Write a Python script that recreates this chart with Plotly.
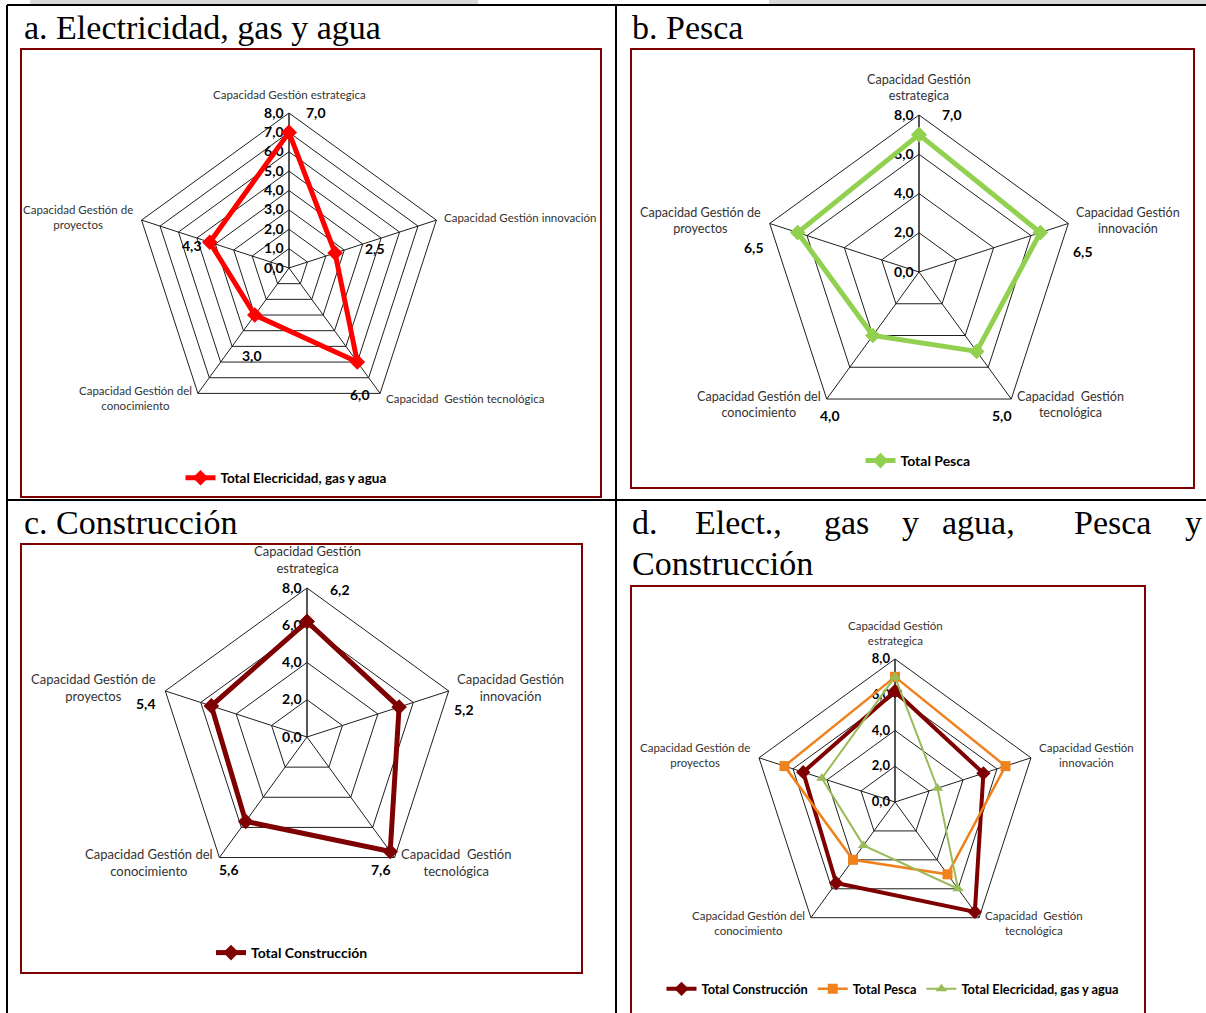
import math
import plotly.graph_objects as go

W, H = 1206, 1013

# Category axes (five management capabilities)
ejes = ["Capacidad Gestión estrategica", "Capacidad Gestión innovación",
        "Capacidad  Gestión tecnológica", "Capacidad Gestión del conocimiento",
        "Capacidad Gestión de proyectos"]

# Scores per sector
electricidad = [7.0, 2.5, 6.0, 3.0, 4.3]
pesca = [7.0, 6.5, 5.0, 4.0, 6.5]
construccion = [6.2, 5.2, 7.6, 5.6, 5.4]

nombre_elec = "Total Elecricidad, gas y agua"
nombre_pesca = "Total Pesca"
nombre_constr = "Total Construcción"

RMAX = 8.0
GRID = "#1e1e1e"
FONT = "Lato"
RED = "#ff0000"
GREEN = "#92d050"
MAROON = "#7f0000"
ORANGE = "#f0821e"
LGREEN = "#9bbb59"
BOX = "#7f0000"


def px_x(x):
    return x / W


def px_y(y):
    return 1 - y / H


def closed(v):
    return list(v) + [v[0]]


def polar_cfg(cx, cy, R, dtick, tick_size):
    return dict(
        domain=dict(x=[px_x(cx - R), px_x(cx + R)], y=[px_y(cy + R), px_y(cy - R)]),
        gridshape="linear",
        bgcolor="white",
        radialaxis=dict(
            range=[0, RMAX], tickmode="linear", tick0=0, dtick=dtick, tickformat=".1f",
            angle=90, side="counterclockwise", tickangle=90, showline=True,
            linecolor=GRID, linewidth=1, gridcolor=GRID, gridwidth=0.8, ticks="",
            tickfont=dict(family=FONT, size=tick_size, color="black", weight="bold"),
            layer="below traces",
        ),
        angularaxis=dict(
            direction="clockwise", rotation=90, showline=True, linecolor=GRID,
            linewidth=1, gridcolor=GRID, gridwidth=0.8, ticks="", showticklabels=False,
            layer="below traces",
        ),
    )


# (center x, center y, radius) of each radar in pixels
GEOM = {
    "polar": (289, 268, 155),
    "polar2": (919, 272, 157),
    "polar3": (307, 737, 149),
    "polar4": (895, 802, 143),
}

fig = go.Figure()


def radar(values, name, color, width, symbol, msize, subplot, legend):
    fig.add_trace(go.Scatterpolar(
        r=closed(values), theta=closed(ejes), name=name, mode="lines+markers",
        line=dict(color=color, width=width),
        marker=dict(symbol=symbol, size=msize, color=color),
        subplot=subplot, legend=legend, showlegend=True, hoverinfo="r+theta",
    ))


radar(electricidad, nombre_elec, RED, 5, "diamond", 12, "polar", "legend")
radar(pesca, nombre_pesca, GREEN, 5, "diamond", 12, "polar2", "legend2")
radar(construccion, nombre_constr, MAROON, 5, "diamond", 12, "polar3", "legend3")
radar(construccion, nombre_constr, MAROON, 4, "diamond", 11, "polar4", "legend4")
radar(pesca, nombre_pesca, ORANGE, 2.5, "square", 10, "polar4", "legend4")
radar(electricidad, nombre_elec, LGREEN, 2, "triangle-up", 10, "polar4", "legend4")

annotations = []


def vertex(key, k, v=RMAX):
    cx, cy, R = GEOM[key]
    a = math.radians(72 * k)
    return cx + v / RMAX * R * math.sin(a), cy - v / RMAX * R * math.cos(a)


# Axis category labels placed around the outer vertices
# (dx, dy, xanchor, yanchor) per axis
CAT_PLACE = [(0, -10, "center", "bottom"), (6, -3, "left", "middle"),
             (4, 5, "left", "middle"), (-4, 5, "right", "middle"),
             (-7, -3, "right", "middle")]
for key, size, wrap_from in [("polar", 11.5, 3), ("polar2", 12.6, 0), ("polar3", 13, 0), ("polar4", 11.5, 0)]:
    for k, name in enumerate(ejes):
        text = "<br>".join(name.rsplit(" ", 1)) if k >= wrap_from else name
        vx, vy = vertex(key, k)
        dx, dy, xa, ya = CAT_PLACE[k]
        annotations.append(dict(
            x=px_x(vx + dx), y=px_y(vy + dy), xref="paper", yref="paper", text=text,
            showarrow=False, xanchor=xa, yanchor=ya, align="center",
            font=dict(family=FONT, size=size, color="#333333"),
        ))

# Value labels, offset in pixels from each plotted point
label_offsets = {
    "polar": [(27, -20), (40, -5), (3, 32), (-3, 40), (-18, 3)],
    "polar2": [(33, -20), (43, 19), (25, 64), (-43, 80), (-44, 15)],
    "polar3": [(33, -32), (65, 2), (-9, 18), (-17, 48), (-65, -2)],
}
label_values = {"polar": electricidad, "polar2": pesca, "polar3": construccion}
for key, vals in label_values.items():
    for k, v in enumerate(vals):
        x, y = vertex(key, k, v)
        dx, dy = label_offsets[key][k]
        annotations.append(dict(
            x=px_x(x + dx), y=px_y(y + dy), xref="paper", yref="paper",
            text=f"{v:.1f}".replace(".", ","), showarrow=False,
            xanchor="center", yanchor="middle",
            font=dict(family=FONT, size=14, color="black", weight="bold"),
        ))

# Cell headings
SERIF = dict(family="Liberation Serif", size=34, color="black")
for text, x, y in [("a. Electricidad, gas y agua", 22, 27), ("b. Pesca", 630, 27),
                   ("c. Construcción", 22, 522), ("Construcción", 630, 563)]:
    annotations.append(dict(x=px_x(x), y=px_y(y), xref="paper", yref="paper", text=text,
                            showarrow=False, xanchor="left", yanchor="middle", font=SERIF))
# justified first line of heading d
for word, x in [("d.", 630), ("Elect.,", 693), ("gas", 822), ("y", 900),
                ("agua,", 940), ("Pesca", 1072), ("y", 1183)]:
    annotations.append(dict(x=px_x(x), y=px_y(522), xref="paper", yref="paper", text=word,
                            showarrow=False, xanchor="left", yanchor="middle", font=SERIF))

shapes = []
# grey strip at the top of the page
for x0, x1 in [(30, 478), (769, 1206)]:
    shapes.append(dict(type="rect", xref="paper", yref="paper", x0=px_x(x0), x1=px_x(x1),
                       y0=px_y(4), y1=px_y(0), fillcolor="#d9d9d9", line=dict(width=0),
                       layer="below"))
# table rules
for x0, y0, x1, y1 in [(7, 5, 1206, 5), (7, 5, 7, 1013), (616, 5, 616, 1013), (7, 500, 1206, 500)]:
    shapes.append(dict(type="line", xref="paper", yref="paper", x0=px_x(x0), y0=px_y(y0),
                       x1=px_x(x1), y1=px_y(y1), line=dict(color="black", width=2)))
# chart frames
for x0, y0, x1, y1 in [(21, 49, 601, 497), (631, 49, 1194, 488), (21, 544, 582, 973), (631, 586, 1145, 1030)]:
    shapes.append(dict(type="rect", xref="paper", yref="paper", x0=px_x(x0), y0=px_y(y1),
                       x1=px_x(x1), y1=px_y(y0), line=dict(color=BOX, width=2), layer="below"))


def legend_cfg(x, y, size):
    return dict(x=px_x(x), y=px_y(y), xanchor="center", yanchor="middle", orientation="h",
                bgcolor="rgba(0,0,0,0)", itemwidth=30,
                font=dict(family=FONT, size=size, color="black", weight="bold"))


fig.update_layout(
    width=W, height=H, margin=dict(l=0, r=0, t=0, b=0), showlegend=True,
    paper_bgcolor="white", plot_bgcolor="white", separators=",.",
    polar=polar_cfg(*GEOM["polar"], 1, 14),
    polar2=polar_cfg(*GEOM["polar2"], 2, 14),
    polar3=polar_cfg(*GEOM["polar3"], 2, 14),
    polar4=polar_cfg(*GEOM["polar4"], 2, 13),
    legend=legend_cfg(286, 478, 13.5),
    legend2=legend_cfg(918, 461, 14),
    legend3=legend_cfg(292, 953, 14),
    legend4=legend_cfg(893, 989, 12.8),
    annotations=annotations, shapes=shapes,
)

fig.write_html("out.html")
